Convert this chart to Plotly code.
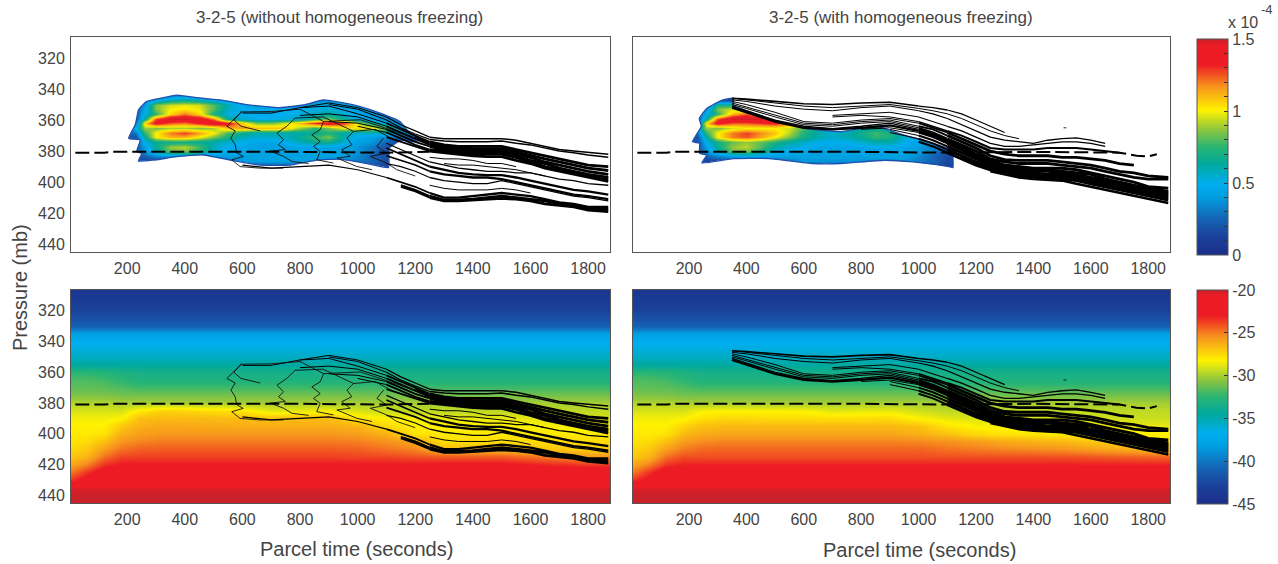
import plotly.graph_objects as go

N = None
TITLE_LEFT = "3-2-5 (without homogeneous freezing)"
TITLE_RIGHT = "3-2-5 (with homogeneous freezing)"
X_TICKS = [200, 400, 600, 800, 1000, 1200, 1400, 1600, 1800]
Y_TICKS = [320, 340, 360, 380, 400, 420, 440]
IWC_TICKS = [0, 0.1, 0.2, 0.3, 0.4, 0.5, 0.6, 0.7, 0.8, 0.9, 1, 1.1, 1.2, 1.3, 1.4, 1.5]
IWC_LABELS = ["0", "", "", "", "", "0.5", "", "", "", "", "1", "", "", "", "", "1.5"]
TEMP_TICKS = [-45, -40, -35, -30, -25, -20]

# Ice water content (units of 1e-4)
IWC_RIM = 0.2
IWC_T = [190, 230, 260, 300, 350, 400, 450, 500, 550, 600, 650, 700, 750, 800, 850, 900, 950, 1000, 1050, 1100, 1150, 1200, 1240]
IWC_P = [340, 344, 347, 350, 353, 356, 359, 362, 365, 368, 371, 374, 377, 380, 383, 386, 389, 392, 396]
IWC_LEFT = [
    [N, N, N, N, N, N, N, N, N, N, N, N, N, N, N, N, N, N, N, N, N, N, N],
    [N, N, N, .25, .3, .35, .35, .3, N, N, N, N, N, N, N, .25, .25, .2, N, N, N, N, N],
    [N, N, .3, .45, .6, .65, .6, .5, .4, .3, N, N, N, N, .3, .38, .4, .3, N, N, N, N, N],
    [N, N, .4, .85, .95, .98, .95, .8, .6, .45, .4, .4, .4, .42, .45, .48, .45, .38, .3, N, N, N, N],
    [N, N, .45, .85, 1.0, 1.02, .98, .8, .55, .5, .47, .47, .47, .5, .52, .55, .5, .45, .35, .25, N, N, N],
    [N, N, .5, .75, 1.05, 1.2, 1.05, .7, .52, .5, .48, .48, .5, .52, .58, .62, .55, .45, .38, .32, .2, N, N],
    [N, N, .65, 1.25, 1.5, 1.5, 1.45, 1.2, .65, .55, .5, .5, .52, .58, .7, .85, .65, .5, .42, .35, .28, N, N],
    [N, .3, 1.05, 1.4, 1.25, 1.2, 1.35, 1.5, 1.4, 1.05, .85, .85, .95, 1.1, 1.3, 1.45, 1.3, .95, .65, .48, .32, N, N],
    [N, .5, .9, .85, .9, .9, .85, .9, 1.1, 1.15, 1.1, 1.1, 1.08, .9, .75, .85, 1.0, 1.05, 1.0, .8, .42, .25, N],
    [N, .3, .75, 1.0, 1.2, 1.28, 1.15, 1.0, .78, .65, .6, .6, .6, .6, .65, .72, .6, .55, .55, .62, .4, .25, N],
    [N, .2, .65, 1.0, 1.12, 1.12, 1.0, .85, .7, .58, .55, .55, .58, .65, .75, .85, .6, .48, .42, .35, .25, .2, N],
    [N, N, .5, .65, .68, .68, .65, .6, .55, .5, .45, .45, .5, .58, .65, .68, .55, .42, .38, .25, .15, N, N],
    [N, N, .42, .65, .88, .92, .78, .58, .48, .45, .42, .42, .42, .45, .45, .45, .42, .38, .3, .18, .1, N, N],
    [N, N, .38, .6, .82, .85, .72, .55, .48, .45, .42, .42, .42, .42, .42, .42, .42, .38, .28, .16, N, N, N],
    [N, N, .25, .35, .42, .48, .45, .42, .42, .42, .42, .42, .42, .42, .42, .42, .42, .35, .25, .18, N, N, N],
    [N, N, .12, .15, .2, .2, .2, .25, .3, .4, .42, .42, .42, .42, .42, .38, .38, .32, .25, .16, N, N, N],
    [N, N, N, N, N, N, N, N, N, .25, .25, .25, .25, .25, .25, .25, .25, .22, .2, .14, N, N, N],
    [N, N, N, N, N, N, N, N, N, N, N, N, N, N, N, N, N, N, N, .12, N, N, N],
    [N, N, N, N, N, N, N, N, N, N, N, N, N, N, N, N, N, N, N, N, N, N, N],
]
IWC_RIGHT = [
    [N, N, N, N, N, N, N, N, N, N, N, N, N, N, N, N, N, N, N, N, N, N, N],
    [N, N, N, N, .1, N, N, N, N, N, N, N, N, N, N, N, N, N, N, N, N, N, N],
    [N, N, N, .2, .15, N, N, N, N, N, N, N, N, N, N, N, N, N, N, N, N, N, N],
    [N, N, .25, .7, .7, .55, N, N, N, N, N, N, N, N, N, N, N, N, N, N, N, N, N],
    [N, N, .4, .85, .95, .8, .55, N, N, N, N, N, N, N, N, N, N, N, N, N, N, N, N],
    [N, N, .5, .75, 1.1, 1.25, 1.0, .65, N, N, N, N, N, N, N, N, N, N, N, N, N, N, N],
    [N, N, .65, 1.25, 1.5, 1.5, 1.5, 1.35, 1.1, N, N, N, N, N, N, N, N, N, N, N, N, N, N],
    [N, .3, 1.05, 1.4, 1.25, 1.25, 1.3, 1.35, 1.2, .85, .65, .55, .55, .55, .55, .55, .5, N, N, N, N, N, N],
    [N, .5, .9, .85, .95, 1.0, 1.0, 1.0, .95, .8, .65, .55, .55, .6, .65, .55, .48, .45, N, N, N, N, N],
    [N, .3, .75, 1.0, 1.2, 1.28, 1.18, 1.08, .92, .72, .6, .55, .6, .68, .78, .7, .55, .5, .42, N, N, N, N],
    [N, .2, .65, 1.0, 1.2, 1.25, 1.15, 1.0, .85, .7, .6, .55, .6, .65, .75, .7, .55, .5, .4, .32, N, N, N],
    [N, N, .5, .7, .82, .88, .82, .72, .62, .55, .5, .5, .5, .55, .6, .6, .5, .45, .38, .25, N, N, N],
    [N, N, .42, .65, .88, .92, .8, .6, .55, .5, .45, .45, .45, .45, .5, .5, .45, .4, .32, .2, N, N, N],
    [N, N, .38, .6, .82, .85, .72, .55, .48, .45, .42, .42, .42, .42, .42, .42, .42, .4, .32, .16, N, N, N],
    [N, N, .25, .35, .42, .48, .45, .42, .42, .42, .42, .42, .42, .42, .42, .42, .42, .35, .25, .16, N, N, N],
    [N, N, .12, .15, .2, .2, .2, .25, .3, .4, .38, .38, .38, .38, .38, .38, .38, .32, .25, .15, N, N, N],
    [N, N, N, N, N, N, N, N, N, .25, .2, .25, .2, .2, .2, .2, .2, .2, .18, .12, N, N, N],
    [N, N, N, N, N, N, N, N, N, N, N, N, N, N, N, N, N, N, N, .12, N, N, N],
    [N, N, N, N, N, N, N, N, N, N, N, N, N, N, N, N, N, N, N, N, N, N, N],
]
PLUME_T_L = [233, 228, 205, 245, 233, 251, 239, 291, 372, 465, 557, 662, 766, 858, 939, 1032, 1107, 1110, 1150, 1190, 1217, 1182, 1147, 1078, 1009, 951, 881, 812, 731, 615, 523, 442, 372, 314, 268, 239, 233]
PLUME_P_L = [359, 363, 371.8, 372.9, 380.4, 381.5, 386.4, 385.8, 383.6, 382.5, 385.8, 389, 389, 385.8, 385.2, 388, 390.5, 378, 373, 374, 372.9, 368.6, 361, 355.6, 351.4, 349, 347, 350.3, 352, 350, 347, 345.6, 343.9, 346, 348, 353.5, 359]
PLUME_T_R = [236, 243, 212, 237, 237, 262, 245, 355, 480, 630, 730, 880, 980, 1105, 1120, 1120, 1130, 1067, 930, 855, 730, 605, 480, 355, 355, 318, 262, 236]
PLUME_P_R = [359, 364, 374, 375, 381.5, 382.6, 387.6, 384.8, 384.8, 388, 388, 385.9, 387, 390, 390.6, 381.5, 380.5, 376, 368.6, 364, 367.5, 365.4, 359, 350.4, 346, 347, 352.5, 359]
AXIS_T = [5, 1876]
AXIS_P = [306.5, 445]

# Temperature (deg C)
TEMP_T = [0, 60, 120, 180, 240, 320, 600, 700, 900, 1000, 1100, 1200, 1300, 1500, 1800, 1900]
TEMP_UPPER_P = [300, 305, 310, 315, 320, 325, 330, 335, 340, 345, 350, 355]
TEMP_UPPER = [-44, -44, -43.7, -43.3, -42.7, -42, -41, -38, -36.8, -36.3, -35.5, -34.5]
TEMP_LOWER_P = [360, 365, 370, 375, 380, 385, 390, 395, 400, 405, 410, 415, 420, 425, 430, 435, 440, 445, 450]
TEMP_LEFT = [
    [-32.6, -32.6, -32.8, -33.1, -33.4, -33.5, -33.5, -33.5, -33.5, -33.5, -33.5, -33.5, -33.5, -33.5, -33.5, -33.5],
    [-31.8, -31.8, -32, -32.5, -32.9, -33, -33, -33, -33, -33, -33, -33, -33, -33, -33, -33],
    [-31.4, -31.4, -31.5, -31.7, -32, -32, -32, -32, -32, -32, -32, -32, -32, -32, -32, -32],
    [-30.8, -30.8, -30.8, -31, -31, -31, -31, -31, -31, -31, -31, -31, -31, -31, -31, -31],
    [-29.8, -29.8, -29.8, -29.9, -30, -30, -30, -30, -30, -30, -30, -30, -30, -30, -30, -30],
    [-29, -29, -29, -29, -28, -27.2, -27.8, -28.8, -28.4, -29, -29.3, -29.5, -29.5, -29.5, -29.5, -29.5],
    [-28.5, -28.5, -28.5, -28.3, -26.8, -26.6, -26.7, -26.7, -26.7, -27.8, -28.3, -28.5, -28.7, -28.7, -29, -29],
    [-28.2, -28.2, -28.2, -27, -26.3, -26.1, -26.2, -26.2, -26.2, -26.4, -27.5, -28.2, -28.2, -28.2, -28.5, -28.5],
    [-28, -28, -27.8, -26.3, -25.8, -25.6, -25.6, -25.6, -25.6, -25.8, -26.3, -27.8, -28, -28, -28, -28],
    [-27.8, -27.6, -26.8, -25.6, -25.2, -25, -25, -25, -25, -25.1, -25.5, -26, -27.7, -27.7, -27.6, -27.6],
    [-27.5, -27, -25.8, -24.8, -24.4, -24.3, -24.3, -24.3, -24.3, -24.4, -24.8, -25.2, -26.6, -26.6, -27.2, -27.2],
    [-27, -26.4, -24.7, -23.8, -23.7, -23.7, -23.7, -23.7, -23.7, -23.8, -23.8, -24, -24.2, -24.2, -25.5, -25.5],
    [-26, -25, -23.4, -22.8, -22.8, -22.8, -22.8, -22.8, -22.8, -22.8, -22.8, -22.8, -22.6, -22.6, -23.5, -23.5],
    [-25, -23.5, -22, -22, -22, -22, -22, -22, -22, -22, -22, -22, -22, -22, -22, -22],
    [-23.5, -22.4, -22, -22, -22, -22, -22, -22, -22, -22, -22, -22, -22, -22, -22, -22],
    [-20.4, -20.4, -20.4, -20.4, -20.4, -20.4, -20.4, -20.4, -20.4, -20.4, -20.4, -20.4, -20.4, -20.4, -20.4, -20.4],
    [-20, -20, -20, -20, -20, -20, -20, -20, -20, -20, -20, -20, -20, -20, -20, -20],
    [-20, -20, -20, -20, -20, -20, -20, -20, -20, -20, -20, -20, -20, -20, -20, -20],
    [-20, -20, -20, -20, -20, -20, -20, -20, -20, -20, -20, -20, -20, -20, -20, -20],
]
TEMP_RIGHT = [
    [-32.6, -32.6, -32.8, -33.1, -33.4, -33.5, -33.5, -33.5, -33.5, -33.5, -33.5, -33.5, -33.5, -33.5, -33.5, -33.5],
    [-31.8, -31.8, -32, -32.5, -32.9, -33, -33, -33, -33, -33, -33, -33, -33, -33, -33, -33],
    [-31.4, -31.4, -31.5, -31.7, -32, -32, -32, -32, -32, -32, -32, -32, -32, -32, -32, -32],
    [-30.8, -30.8, -30.8, -31, -31, -31, -31, -31, -31, -31, -31, -31, -31, -31, -31, -31],
    [-29.8, -29.8, -29.8, -29.9, -30, -30, -30, -30, -30, -30, -30, -30, -30, -30, -30, -30],
    [-29, -29, -29, -29, -28.4, -28.2, -28.3, -28.8, -28.6, -29.2, -29.5, -29.5, -29.5, -29.5, -29.5, -29.5],
    [-28.5, -28.5, -28.5, -28.4, -27.8, -27.5, -27.6, -27.7, -27.6, -28.3, -28.8, -29, -29, -29, -29.3, -29.3],
    [-28.2, -28.2, -28.2, -27.4, -26.8, -26.6, -26.6, -26.6, -26.6, -26.8, -27.8, -28.3, -28.5, -28.5, -28.7, -28.7],
    [-28, -28, -27.8, -26.6, -26.2, -26, -26, -26, -26, -26.3, -26.8, -27.5, -27.8, -28, -28.2, -28.2],
    [-27.8, -27.6, -26.8, -25.8, -25.4, -25.2, -25.2, -25.2, -25.2, -25.3, -25.5, -25.8, -26.2, -26.6, -27.8, -27.8],
    [-27.5, -27, -25.8, -25, -24.6, -24.5, -24.5, -24.5, -24.5, -24.5, -24.8, -25, -25.2, -25.5, -26.5, -26.5],
    [-27, -26.4, -24.7, -24, -24, -24, -24, -24, -24, -24, -24, -24, -24, -24, -24.4, -24.4],
    [-26, -25, -23.4, -23, -23, -23, -23, -23, -23, -23, -23, -23, -23, -23, -23, -23],
    [-25, -23.5, -22, -22, -22, -22, -22, -22, -22, -22, -22, -22, -22, -22, -22, -22],
    [-23.5, -22.4, -22, -22, -22, -22, -22, -22, -22, -22, -22, -22, -22, -22, -22, -22],
    [-20.4, -20.4, -20.4, -20.4, -20.4, -20.4, -20.4, -20.4, -20.4, -20.4, -20.4, -20.4, -20.4, -20.4, -20.4, -20.4],
    [-20, -20, -20, -20, -20, -20, -20, -20, -20, -20, -20, -20, -20, -20, -20, -20],
    [-20, -20, -20, -20, -20, -20, -20, -20, -20, -20, -20, -20, -20, -20, -20, -20],
    [-20, -20, -20, -20, -20, -20, -20, -20, -20, -20, -20, -20, -20, -20, -20, -20],
]

# Parcel trajectories, left panels
TRAJ_T_L = [600, 700, 800, 900, 1000, 1100, 1150, 1200, 1250, 1300, 1350, 1400, 1450, 1500, 1550, 1600, 1650, 1700, 1750, 1800, 1870]
TRAJ_L = [
    [N, N, 352, 349, 352, 358, 363, 367, 371, 372, 372, 372, 372, 372, 373, 375, 377, 379, 380, 381, 382],
    [N, N, N, 350, 353, 360, 365, 369, 372.5, 373.5, 374, 374, 374, 373.5, 375, 376, 378, 380, 381, 382.5, 384],
    [355.5, 355.5, 352, 351, 356, 362, 366, 370, 374, 376, 377, 377, 377, 377, 379, 381, 383, 385, 387, 389, 390],
    [N, N, N, N, N, N, N, 371, 375, 377, 378, 378.5, 378.5, 378.5, 380.5, 383, 385, 387, 389, 391, 392.5],
    [N, N, 357, 356, 358, 364, 368, 372, 376, 378, 379, 380, 380, 380, 382, 384, 387, 389, 391, 393, 395],
    [N, N, N, 361, 362, 366, 370, 374, 377, 379, 380, 381, 381, 381, 383, 386, 388, 391, 393, 395, 397],
    [N, N, N, N, 364, 368, 372, 376, 379, 380, 381, 382, 382, 382, 384, 387, 390, 392, 394, 396, 398],
    [N, N, N, N, N, 371, 374, 377, 380, 381, 382, 383, 383.5, 383.5, 386, 388, 391, 393, 395, 397, 399.5],
    [N, N, N, N, N, 375, 379, 383, 387, 389, 391, 392, 393, 393, 394, 394, 396, 398, 399, 401, 402],
    [N, N, N, N, N, 378, 382, 386, 390, 392, 394, 395, 395.5, 395.5, 397, 399, 401, 403, 405, 406, 408],
    [N, N, N, N, N, 383, 386, 389, 393, 395, 396, 397, 397, 398, 400, 402, 404, 406, 408, 409, 411],
    [N, N, N, N, N, 388, 390, 393, 397, 399, 400, 401, 401, 399, 401, 403, 405, 407, 409, 410, 412],
    [389, 391, 390, 389, 392, 397, 400, 403, 407, 410, 410, 409, 408, 407, 408, 409, 411, 413, 414, 416, 416],
    [N, N, N, N, N, N, 402, 405, 409, 411.5, 411.5, 411, 410, 409, 410, 411, 412, 414, 415, 417, 417.5],
    [N, N, N, N, N, N, 403, 406, 410, 412, 412, 411.5, 411, 410.5, 411, 412, 414, 415, 416, 418, 419],
    [N, N, N, N, N, N, N, N, 384, 385, 385, 386, 388, 388, 390, N, N, N, N, N, N],
    [N, N, N, N, N, N, N, N, N, 388, 389, 389, 390, 391, 392, 394, 396, N, N, N, N],
    [N, N, N, N, N, N, N, N, 402, 404, 405, 405, 405, 404, 405, 407, N, N, N, N, N],
]
WIGGLE_1_T = [662, 620, 595, 570, 595, 546, 575, 560, 575, 580, 603, 563, 592, 662, 742]
WIGGLE_1_P = [367, 365, 364, 360, 355, 364, 367, 371.6, 376, 381, 383.5, 385.6, 390, 391, 391]
WIGGLE_2_T = [783, 754, 720, 743, 725, 749, 697, 743, 772, 830]
WIGGLE_2_P = [358.7, 364, 368.4, 372.7, 375.9, 379, 380, 383.4, 386.7, 388]
WIGGLE_3_T = [882, 870, 841, 870, 847, 870, 858, 916]
WIGGLE_3_P = [360.9, 366.2, 369.5, 373.8, 377, 380.2, 385.6, 387.7]
WIGGLE_4_T = [986, 963, 980, 945, 974, 928, 997, 1050]
WIGGLE_4_P = [367.3, 371.6, 375.9, 379.1, 383.4, 384.5, 389.9, 392]
WIGGLE_5_T = [1090, 1067, 1101, 1044, 1101, 1136, 1200]
WIGGLE_5_P = [371.6, 377, 381.3, 383.4, 387.7, 392, 396]
TOP_LINK_T = [592, 700, 800, 882, 1009, 1078, 1194]
TOP_LINK_P = [354.8, 354.5, 353, 360.9, 359.8, 364, 371.6]
MID_LINK_T = [783, 880, 986, 1060, 1120]
MID_LINK_P = [358.7, 358, 367.3, 366, 372]

# Parcel trajectories, right panels
TRAJ_T_R = [350, 400, 500, 600, 700, 800, 900, 1000, 1050, 1100, 1150, 1200, 1250, 1300, 1350, 1400, 1450, 1500, 1550, 1600, 1650, 1700, 1750, 1800, 1870]
TRAJ_R = [
    [346, 346.5, 348, 349.5, 350, 349, 348.5, 351, 352, 353.5, 356, 360, 364, 368, N, N, N, N, N, N, N, N, N, N, N],
    [346, 347, 349, 351, 352, 351, 350, 352.5, 354, 356, 359, 363, 367, 370, 372, N, N, N, N, N, N, N, N, N, N],
    [347, 348, 351, 353, 354, 352, 351, 354, 356, 359, 363, 367, 371, 373, 374, 375, 373, 372, 371.5, 373, 375, N, N, N, N],
    [N, N, N, N, 357, 356, 355, 358, 361, 364, 367, 371, 375, 377, 377, 376, 375, 374, 374, 375, 377, N, N, N, N],
    [N, N, N, N, 358, 357, 358, 361, 364, 367, 370, 374, 378, 379, 379, 379, 378, 378, 378, 379, 380, 381, N, N, N],
    [348, 350, 355, 361, 362, 360, 359, 362, 365, 368, 372, 376, 380, 382, 383, 383, 383, 384, 384, 385, 386, 388, 389, N, N],
    [349, 351.5, 357, 362, 363, 361, 360, 364, 366, 370, 374, 378, 383, 385.5, 386, 386, 386, 387, 388, 389, 391, 393, 394, 396, 397],
    [350, 352.5, 358, 363, 364, 362, 361, 365, 368, 372, 376, 380, 385, 387, 388, 388, 388, 389, 390, 391, 393, 395, 397, 398, 398],
    [351, 354, 360, 364, 365.5, 364, 362, 366, 369, 373, 377, 382, 386, 389, 390, 391, 391, 391, 392, 394, 396, 398, 400, 403, 404],
    [352, 355, 361, 365, 366, 365, 363.5, 367, 370, 374, 378, 383, 387, 390, 391, 392, 392, 393, 394, 395, 398, 400, 402, 404, 406],
    [N, N, N, N, N, 366, 365, 368, 371, 375, 379, 384, 388, 391, 392, 393, 393, 394, 395, 397, 399, 401, 403, 405, 407],
    [N, N, N, N, N, N, 366, 370, 373, 377, 381, 385, 389, 392, 393, 394, 395, 395, 396, 398, 400, 402, 404, 406, 408],
    [N, N, N, N, N, N, 368, 372, 375, 379, 383, 387, 390, 393, 394, 395, 396, 396, 397, 399, 401, 403, 405, 407, 409],
    [N, N, N, N, N, N, N, 374, 377, 381, 385, 389, 392, 394, 395, 396, 397, 397, 398, 400, 402, 404, 406, 408, 410],
    [N, N, N, N, N, N, N, N, N, N, 384, 388, 391, 394, 396, 397, 398, 398, 399, 401, 403, 405, 407, 409, 411.5],
    [N, N, N, N, N, N, N, N, N, N, N, N, 393, 395, 397, 398, 398.5, 399, 401, 403, 405, 407, 409, 411, 413.5],
]
SPECK_T = [1505, 1515]
SPECK_P = [365, 365]

# Dashed level
DASH_T_L = [20, 120, 150, 500, 540, 800, 1100, 1250]
DASH_P_L = [381, 381, 380.5, 380.5, 380.5, 380.5, 381, 380.5]
DASH_T_R = [20, 120, 150, 500, 540, 800, 1100, 1400, 1700, 1760, 1800, 1830]
DASH_P_R = [381, 381, 380.5, 380.5, 380.5, 380.5, 381, 380.5, 381, 383, 383.5, 382]

COLORSCALE = [
    [0, "#1b2f8a"], [0.08, "#1a3f99"], [0.17, "#1565b5"], [0.27, "#009fe0"], [0.33, "#00aeef"],
    [0.42, "#00a99d"], [0.5, "#2ab573"], [0.58, "#8dc63f"], [0.67, "#fff200"], [0.78, "#f7941d"],
    [0.88, "#ed1c24"], [0.97, "#ed1c24"], [1, "#c9202a"],
]

W, H = 1278, 564
FONT = "Liberation Sans"
TXT = "#444444"
PANELS = {
    "": (71, 610, 37, 252),
    "2": (633, 1170, 37, 252),
    "3": (71, 610, 290, 503),
    "4": (633, 1170, 290, 503),
}

fig = go.Figure()
layout = {}
for key, (x0, x1, y0, y1) in PANELS.items():
    left = key in ("", "3")
    layout["xaxis" + key] = dict(
        domain=[x0 / W, x1 / W], range=AXIS_T, anchor="y" + key, tickvals=X_TICKS,
        showline=True, mirror=True, linecolor="#555555", linewidth=1, showgrid=False, zeroline=False,
        ticks="outside", ticklen=2, tickcolor="rgba(0,0,0,0)", tickfont=dict(family=FONT, size=16, color=TXT),
    )
    layout["yaxis" + key] = dict(
        domain=[1 - y1 / H, 1 - y0 / H], range=AXIS_P[::-1], anchor="x" + key, tickvals=Y_TICKS,
        showticklabels=left, showline=True, mirror=True, linecolor="#555555", linewidth=1,
        showgrid=False, zeroline=False, ticks="outside" if left else "", ticklen=2,
        tickcolor="rgba(0,0,0,0)", tickfont=dict(family=FONT, size=16, color=TXT),
    )


def ax(key):
    return dict(xaxis="x" + key, yaxis="y" + key)


def solid(rows):
    return [[IWC_RIM if v is None else v for v in row] for row in rows]


def add_plume(key, z, out_t, out_p):
    fig.add_trace(go.Heatmap(x=IWC_T, y=IWC_P, z=solid(z), coloraxis="coloraxis", zsmooth="best",
                             hoverinfo="skip", **ax(key)))
    rect_t = [AXIS_T[0], AXIS_T[1], AXIS_T[1], AXIS_T[0], AXIS_T[0]]
    rect_p = [AXIS_P[0], AXIS_P[0], AXIS_P[1], AXIS_P[1], AXIS_P[0]]
    fig.add_trace(go.Scatter(x=rect_t + out_t + rect_t[:1], y=rect_p + out_p + rect_p[:1], mode="lines",
                             line=dict(width=0, color="white"), fill="toself", fillcolor="white",
                             showlegend=False, hoverinfo="skip", **ax(key)))
    fig.add_trace(go.Scatter(x=out_t, y=out_p, mode="lines", line=dict(width=1.3, color="#1f4fae", shape="spline", smoothing=0.4),
                             showlegend=False, hoverinfo="skip", **ax(key)))


def add_lines(key, times, rows, split, ramp, wiggles, dash_t, dash_p, thin, thick):
    cut_a = sum(1 for t in times if t < split)
    cut_b = sum(1 for t in times if t < ramp)
    for i, row in enumerate(rows):
        mid = (thin[i] + thick[i]) / 2
        parts = [(0, cut_a + 1, thin[i]), (cut_a, cut_b + 1, mid), (cut_b, len(times), thick[i])]
        for a, b, width in parts:
            fig.add_trace(go.Scatter(x=times[a:b], y=row[a:b], mode="lines",
                                     line=dict(color="black", width=width),
                                     showlegend=False, hoverinfo="skip", **ax(key)))
    for wt, wp in wiggles:
        fig.add_trace(go.Scatter(x=wt, y=wp, mode="lines", line=dict(color="#111111", width=0.9),
                                 showlegend=False, hoverinfo="skip", **ax(key)))
    fig.add_trace(go.Scatter(x=dash_t, y=dash_p, mode="lines", line=dict(color="black", width=2, dash="14px,5px"),
                             showlegend=False, hoverinfo="skip", **ax(key)))


add_plume("", IWC_LEFT, PLUME_T_L, PLUME_P_L)
add_plume("2", IWC_RIGHT, PLUME_T_R, PLUME_P_R)
upper_rows = [[v] * len(TEMP_T) for v in TEMP_UPPER]
fig.add_trace(go.Heatmap(x=TEMP_T, y=TEMP_UPPER_P + TEMP_LOWER_P, z=upper_rows + TEMP_LEFT, coloraxis="coloraxis2",
                         zsmooth="best", hoverinfo="skip", **ax("3")))
fig.add_trace(go.Heatmap(x=TEMP_T, y=TEMP_UPPER_P + TEMP_LOWER_P, z=upper_rows + TEMP_RIGHT, coloraxis="coloraxis2",
                         zsmooth="best", hoverinfo="skip", **ax("4")))

WIGGLES = [(WIGGLE_1_T, WIGGLE_1_P), (WIGGLE_2_T, WIGGLE_2_P), (WIGGLE_3_T, WIGGLE_3_P), (WIGGLE_4_T, WIGGLE_4_P),
           (WIGGLE_5_T, WIGGLE_5_P), (TOP_LINK_T, TOP_LINK_P), (MID_LINK_T, MID_LINK_P)]
THIN_L = [1, 1, 1, 1, 1, 1, 1, 1, 1, 1, 1, 1, 1.2, 1, 1, 1, 1, 1]
THICK_L = [1.5, 1.5, 2.8, 2.8, 2.8, 2.8, 2.8, 2.8, 1.3, 2.3, 2.3, 1.3, 2.3, 2.8, 2.8, 1, 1, 1]
THIN_R = [1.6, 1, 1, 1, 1, 1, 1, 1, 1.3, 2.3, 1, 1, 1, 1, 1, 1]
THICK_R = [1.2, 1, 1.3, 1.3, 2.0, 2.8, 2.8, 2.8, 3, 3, 3, 3, 3, 3, 3, 2.6]
for k in ("", "3"):
    add_lines(k, TRAJ_T_L, TRAJ_L, 1100, 1250, WIGGLES, DASH_T_L, DASH_P_L, THIN_L, THICK_L)
for k in ("2", "4"):
    add_lines(k, TRAJ_T_R, TRAJ_R, 950, 1100, [(SPECK_T, SPECK_P)], DASH_T_R, DASH_P_R, THIN_R, THICK_R)


def cbar(tickvals, ticktext, y0, y1):
    return dict(
        x=1197 / W, xanchor="left", xpad=0, thickness=31, thicknessmode="pixels",
        y=1 - y1 / H, yanchor="bottom", ypad=0, len=(y1 - y0) / H, lenmode="fraction",
        tickvals=tickvals, ticktext=ticktext, ticks="inside", ticklen=4, tickcolor="#333333",
        outlinewidth=1, outlinecolor="#555555", tickfont=dict(family=FONT, size=16, color=TXT),
    )


def note(text, x, y, size=18, angle=0, xanchor="center"):
    return dict(text=text, x=x / W, y=1 - y / H, xref="paper", yref="paper", showarrow=False, xanchor=xanchor,
                yanchor="middle", textangle=angle, font=dict(family=FONT, size=size, color=TXT))


fig.update_layout(
    width=W, height=H, autosize=False, margin=dict(l=0, r=0, t=0, b=0), paper_bgcolor="white", plot_bgcolor="white",
    showlegend=False,
    coloraxis=dict(colorscale=COLORSCALE, cmin=0, cmax=1.5, colorbar=cbar(IWC_TICKS, IWC_LABELS, 39, 255)),
    coloraxis2=dict(colorscale=COLORSCALE, cmin=-45, cmax=-20,
                    colorbar=cbar(TEMP_TICKS, [str(v) for v in TEMP_TICKS], 290, 504)),
    annotations=[
        note(TITLE_LEFT, 339, 18, 17),
        note(TITLE_RIGHT, 901, 18, 17),
        note("Parcel time (seconds)", 356, 549, 20),
        note("Parcel time (seconds)", 920, 550, 20),
        note("Pressure (mb)", 20, 288, 20, -90),
        note("x 10", 1243, 23, 16),
        note("-4", 1267, 10, 13),
    ],
    **layout,
)

fig.write_html("out.html", config={"displayModeBar": False}, post_script="document.body.style.margin='0';")
